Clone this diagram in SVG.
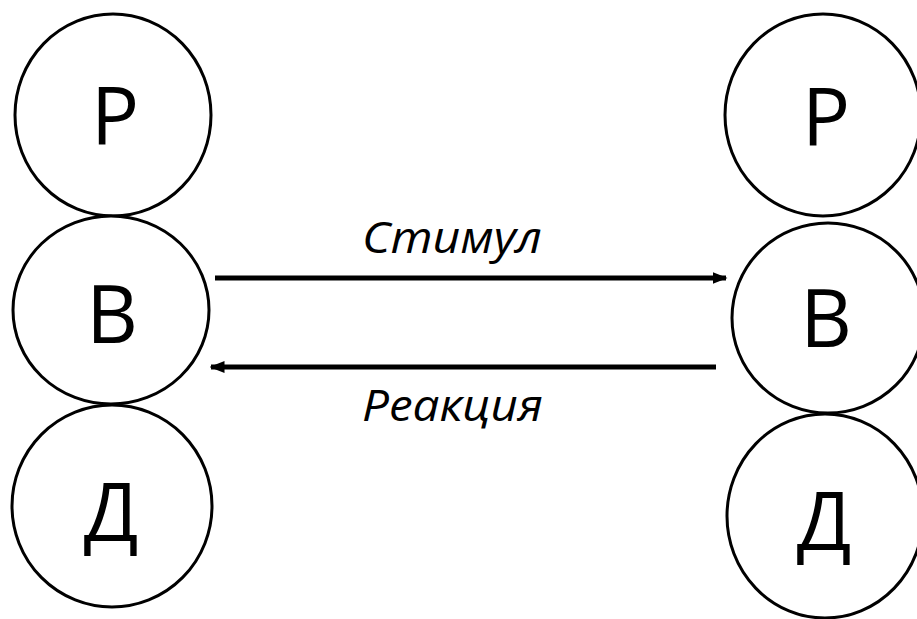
<svg xmlns="http://www.w3.org/2000/svg" width="917" height="619" viewBox="0 0 917 619">
<style>
.n{fill:#fff;stroke:#000;stroke-width:3}
.t{font-family:"Open Sans","Liberation Sans",sans-serif;font-size:80px;fill:#000;text-anchor:middle}
.l{font-family:"Open Sans","Liberation Sans",sans-serif;font-style:italic;font-size:44px;fill:#000}
.c{stroke:#000;stroke-width:5;fill:none}
</style>
<defs>
<marker id="ah" viewBox="0 0 10 8" refX="9" refY="4" markerWidth="3" markerHeight="2.4" orient="auto" markerUnits="strokeWidth">
<path d="M0,0 L10,4 L0,8 Z" fill="#000"/>
</marker>
</defs>
<rect width="917" height="619" fill="#fff"/>
<g id="left-P"><ellipse class="n" cx="113" cy="115" rx="98" ry="101"/><text class="t" x="115" y="145">Р</text></g>
<g id="left-B"><ellipse class="n" cx="111" cy="310" rx="98" ry="94"/><text class="t" x="112" y="343">В</text></g>
<g id="left-D"><ellipse class="n" cx="112" cy="506" rx="100" ry="101"/><text class="t" x="111" y="541">Д</text></g>
<g id="right-P"><ellipse class="n" cx="823" cy="115" rx="98" ry="101"/><text class="t" x="826" y="146">Р</text></g>
<g id="right-B"><ellipse class="n" cx="828" cy="318" rx="96" ry="95"/><text class="t" x="826" y="347">В</text></g>
<g id="right-D"><ellipse class="n" cx="825" cy="516" rx="98" ry="102"/><text class="t" x="824" y="550">Д</text></g>
<g id="connectors">
<line class="c" x1="215" y1="278" x2="726" y2="278" marker-end="url(#ah)"/>
<line class="c" x1="716" y1="367" x2="211" y2="367" marker-end="url(#ah)"/>
<text class="l" x="362" y="253" textLength="180" lengthAdjust="spacingAndGlyphs">Стимул</text>
<text class="l" x="362" y="421" textLength="181" lengthAdjust="spacingAndGlyphs">Реакция</text>
</g>
</svg>
